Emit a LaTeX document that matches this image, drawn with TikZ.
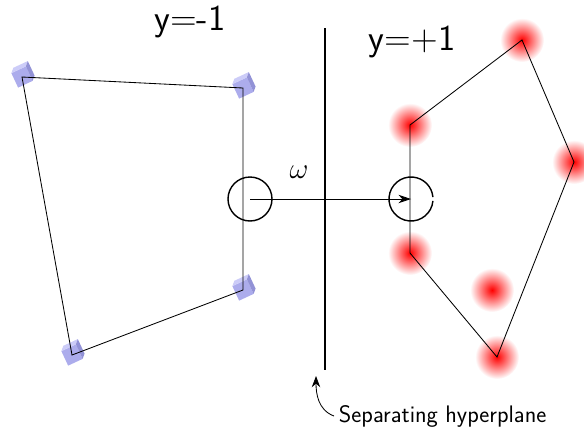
\documentclass[tikz,border=0pt]{standalone}
\usetikzlibrary{arrows.meta}
\definecolor{cubefront}{RGB}{172,172,236}
\definecolor{cubetop}{RGB}{204,204,248}
\definecolor{cubeside}{RGB}{146,146,214}
\tikzset{
  cube/.pic={
    \begin{scope}[rotate=25]
      \fill[cubefront] (-8,-8) rectangle (8,8);
      \fill[cubetop] (-8,-8) -- (-4,-12) -- (12,-12) -- (8,-8) -- cycle;
      \fill[cubeside] (8,-8) -- (12,-12) -- (12,4) -- (8,8) -- cycle;
    \end{scope}},
  blob/.style={inner color=red, outer color=white},
  edge/.style={line width=0.6pt},
  marker/.style={line width=1pt},
  big/.style={font=\sffamily\fontsize{26}{30}\selectfont}
}
\begin{document}
\begin{tikzpicture}[x=0.025cm,y=-0.025cm]
\useasboundingbox (0,0) rectangle (584,435);
% negative class
\coordinate (a1) at (22,77);
\coordinate (a2) at (243,88);
\coordinate (a3) at (243,290);
\coordinate (a4) at (72,355);
% positive class
\coordinate (b1) at (410,125);
\coordinate (b2) at (522,40);
\coordinate (b3) at (574,162);
\coordinate (b4) at (497,357);
\coordinate (b5) at (410,253);
\coordinate (b6) at (492,290);
\foreach \p in {b1,b2,b3,b4,b5,b6}
  \shade[blob] (\p) circle (22);
\foreach \p in {a1,a2,a3,a4}
  \pic at (\p) {cube};
\draw[edge] (a1) -- (a2) -- (a3) -- (a4) -- cycle;
\draw[edge] (b1) -- (b2) -- (b3) -- (b4) -- (b5) -- cycle;
% hyperplane
\coordinate (h1) at (325,28);
\coordinate (h2) at (325,370);
\draw[line width=1.6pt] (h1) -- (h2);
% margin points
\coordinate (c1) at (250,199);
\coordinate (c2) at (411,199);
\draw[marker] (c1) circle (22);
\draw[marker] ([shift={(5:22)}]c2) arc (5:355:22);
\draw[edge,-{Stealth[length=9pt,width=6pt]}] (c1) -- (c2);
\node (w) at (299,172) {\fontsize{22}{26}\selectfont$\omega$};
\node[big] (neg) at (190,22) {y=-1};
\node[big] (pos) at (412,42) {y=+1};
\node[font=\sffamily\fontsize{17}{20}\selectfont, anchor=west] (sep) at (334,416) {Separating hyperplane};
\coordinate (tip) at (316,376);
\draw[edge,-{Stealth[length=8pt,width=6pt]}] (sep.west) to[out=160,in=-90] (tip);
\end{tikzpicture}
\end{document}
